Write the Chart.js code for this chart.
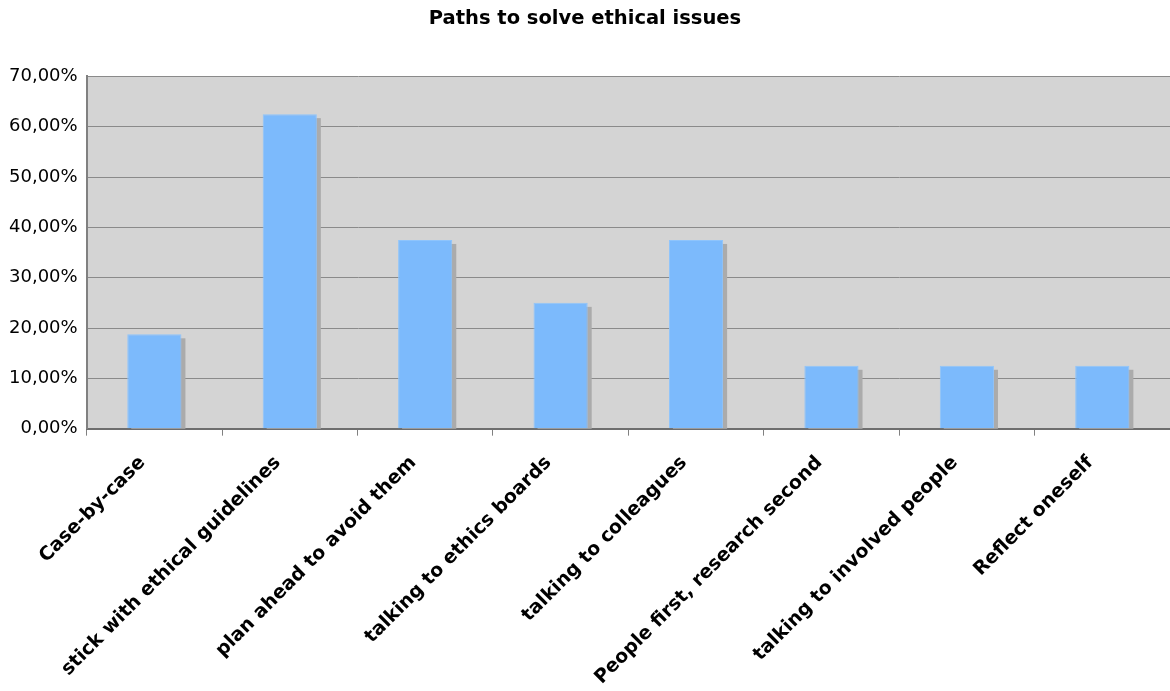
<!DOCTYPE html>
<html>
<head>
<meta charset="utf-8">
<script src="https://cdn.jsdelivr.net/npm/chart.js@4/dist/chart.umd.min.js"></script>
<style>
html,body{margin:0;padding:0;background:#fff;}
#wrap{width:1170px;height:691px;}
</style>
</head>
<body>
<div id="wrap"><canvas id="c"></canvas></div>
<script>
const categories = ["Case-by-case","stick with ethical guidelines","plan ahead to avoid them","talking to ethics boards","talking to colleagues","People first, research second","talking to involved people","Reflect oneself"];
const values = [18.75, 62.5, 37.5, 25, 37.5, 12.5, 12.5, 12.5];
const yMax = 70;
const yStep = 10;

const shadowPlugin = {
  id: 'barShadow',
  beforeDatasetsDraw(chart) {
    const {ctx, chartArea:a} = chart;
    const meta = chart.getDatasetMeta(0);
    ctx.save();
    ctx.beginPath();
    ctx.rect(a.left, a.top, a.right - a.left, a.bottom - a.top);
    ctx.clip();
    ctx.fillStyle = '#ababab';
    meta.data.forEach(bar => {
      const p = bar.getProps(['x', 'y', 'base', 'width'], true);
      ctx.fillRect(p.x - p.width / 2 + 4, p.y + 4, p.width, p.base - p.y);
    });
    ctx.restore();
  }
};
const bgPlugin = {
  id: 'plotBg',
  beforeDraw(chart) {
    const {ctx, chartArea:a} = chart;
    ctx.save();
    ctx.fillStyle = '#d4d4d4';
    ctx.fillRect(a.left, a.top, a.right - a.left, a.bottom - a.top);
    ctx.restore();
  }
};

new Chart(document.getElementById('c'), {
  type: 'bar',
  data: {
    labels: categories,
    datasets: [{
      data: values,
      backgroundColor: '#7cbafc',
      borderColor: '#8ec4fc',
      borderWidth: 1,
      categoryPercentage: 0.8,
      barPercentage: 0.5
    }]
  },
  plugins: [bgPlugin, shadowPlugin],
  options: {
    responsive: true,
    maintainAspectRatio: false,
    animation: false,
    layout: { padding: { left: 0, right: 0, top: 0, bottom: -14 } },
    plugins: {
      legend: { display: false },
      tooltip: { enabled: false },
      title: {
        display: true,
        text: 'Paths to solve ethical issues',
        color: '#000',
        font: { family: 'DejaVu Sans', size: 19.5, weight: 'bold' },
        padding: { top: 7, bottom: 46 }
      }
    },
    scales: {
      x: {
        grid: { display: true, drawOnChartArea: false, drawTicks: true, tickLength: 7, color: '#808080', offset: true },
        border: { display: true, color: '#6e6e6e', width: 2 },
        ticks: {
          color: '#000',
          font: { family: 'DejaVu Sans', size: 19, weight: 'bold' },
          maxRotation: 45, minRotation: 45,
          autoSkip: false,
          padding: 16,
          labelOffset: -12
        }
      },
      y: {
        min: 0, max: yMax,
        grid: { color: '#8a8a8a', lineWidth: 1, drawTicks: false },
        border: { display: true, color: '#808080', width: 2 },
        ticks: {
          stepSize: yStep,
          color: '#000',
          padding: 9,
          font: { family: 'DejaVu Sans', size: 18 },
          callback: v => v.toFixed(2).replace('.', ',') + '%'
        }
      }
    }
  }
});
</script>
</body>
</html>
